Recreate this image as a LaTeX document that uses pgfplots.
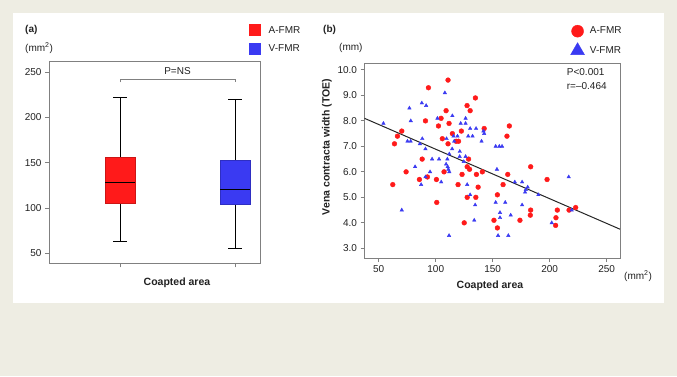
\documentclass[border=0pt]{standalone}
\usepackage{fontspec}
\setmainfont{Liberation Sans}
\usepackage{pgfplots}
\pgfplotsset{compat=1.18}
\usepgfplotslibrary{statistics}
\definecolor{bgbeige}{HTML}{EEEDE3}
\definecolor{myred}{HTML}{FF1A1A}
\definecolor{myblue}{HTML}{3A3AF2}
\definecolor{axgray}{HTML}{808080}
\definecolor{txt}{HTML}{222222}

\pgfplotstableread{
x y
110.8 9.6
93.6 9.3
134.8 8.9
127.5 8.6
109.1 8.4
130.2 8.4
91.0 8.0
104.7 8.1
102.4 7.8
111.7 7.9
164.6 7.8
70.2 7.6
142.5 7.7
114.6 7.5
122.5 7.6
162.5 7.4
66.4 7.4
105.8 7.3
117.9 7.2
120.0 7.2
63.8 7.1
110.8 7.1
183.3 6.2
88.1 6.5
128.8 6.5
127.6 6.2
129.7 6.1
74.0 6.0
107.3 6.0
140.9 6.0
123.1 5.9
135.7 5.9
163.2 5.9
62.3 5.5
85.7 5.7
92.7 5.8
100.6 5.7
119.6 5.5
159.1 5.5
197.7 5.7
137.2 5.4
154.1 5.1
127.6 5.0
135.2 5.0
100.9 4.8
183.3 4.5
206.7 4.5
217.0 4.5
222.8 4.6
183.0 4.3
151.1 4.1
173.9 4.1
205.5 4.2
125.0 4.0
205.2 3.9
154.1 3.8
}\redtab

\pgfplotstableread{
x y
54.1 7.9
76.9 8.5
78.1 8.0
87.8 8.7
91.6 8.6
108.0 9.1
101.5 8.1
114.6 8.2
126.2 8.1
121.9 7.9
126.2 7.9
130.2 7.7
135.4 7.7
141.9 7.6
142.5 7.5
115.6 7.4
119.1 7.4
128.5 7.4
132.3 7.4
75.2 7.2
78.0 7.2
88.2 7.3
86.1 7.1
109.5 7.3
116.2 7.2
140.2 7.2
152.6 7.0
155.8 7.0
158.2 7.0
91.0 6.9
114.4 6.9
121.1 6.8
111.9 6.7
96.8 6.5
102.9 6.5
110.2 6.5
121.0 6.6
124.6 6.4
126.2 6.6
109.1 6.3
110.5 6.2
111.1 6.1
153.7 6.1
81.9 6.2
95.0 6.0
111.9 6.0
91.0 5.8
87.2 5.5
104.8 5.6
127.6 5.5
169.4 5.6
175.8 5.6
179.0 5.3
180.7 5.4
178.4 5.2
190.1 5.1
130.2 5.1
152.6 4.8
161.0 4.8
134.6 4.7
175.8 4.7
216.7 5.8
70.2 4.5
156.4 4.4
165.8 4.3
156.4 4.2
133.8 4.1
201.8 4.0
219.3 4.5
111.7 3.5
154.7 3.5
163.7 3.5
}\bluetab

\pgfplotsset{
  myaxis/.style={
    scale only axis,
    anchor=south west,
    axis line style={axgray, line width=0.9pt},
    tick style={axgray, line width=0.8pt},
    major tick length=4pt,
    tick align=outside,
    xtick pos=left, ytick pos=left,
    tick label style={font=\fontsize{10}{12}\selectfont, text=txt},
    /pgf/number format/assume math mode=true,
    clip=false,
  }
}

\begin{document}
\begin{tikzpicture}
\fill[bgbeige] (0pt,0pt) rectangle (677pt,-376pt);
\fill[white] (13pt,-13pt) rectangle (664pt,-303pt);

% ---------------- panel (a)
\begin{axis}[myaxis,
  at={(49pt,-263.3pt)},
  width=211pt, height=201.6pt,
  xmin=0.383, xmax=2.217, ymin=39, ymax=261.4,
  xtick={1,2}, xticklabels={,},
  ytick={50,100,150,200,250},
  boxplot/draw direction=y,
]
\addplot[forget plot, draw=black, line width=0.7pt,
  boxplot prepared={draw position=1, lower whisker=63, lower quartile=105,
    median=128, upper quartile=156, upper whisker=222,
    box extend=0.26, whisker extend=0.12,
    every box/.style={draw=myred!80!black, fill=myred},
    every median/.style={black, line width=0.8pt}}]
  coordinates {};
\addplot[forget plot, draw=black, line width=0.7pt,
  boxplot prepared={draw position=2, lower whisker=55, lower quartile=104,
    median=121, upper quartile=153, upper whisker=220,
    box extend=0.26, whisker extend=0.12,
    every box/.style={draw=myblue!80!black, fill=myblue},
    every median/.style={black, line width=0.8pt}}]
  coordinates {};
\draw[axgray, line width=0.8pt] (axis cs:1,238.5) -- (axis cs:1,242) -- (axis cs:2,242) -- (axis cs:2,238.5);
\node[font=\fontsize{10}{12}\selectfont, text=txt] at (axis cs:1.5,251) {P=NS};
\end{axis}

% legend (a)
\fill[myred] (249pt,-24pt) rectangle (261pt,-36pt);
\fill[myblue] (249pt,-42.5pt) rectangle (261pt,-54.5pt);
\node[anchor=west, inner sep=0pt, font=\fontsize{10}{12}\selectfont, text=txt] at (268.5pt,-30pt) {A-FMR};
\node[anchor=west, inner sep=0pt, font=\fontsize{10}{12}\selectfont, text=txt] at (268.5pt,-48.5pt) {V-FMR};

% ---------------- panel (b)
\begin{axis}[myaxis,
  at={(364.5pt,-258pt)},
  width=255.5pt, height=195pt,
  xmin=37.5, xmax=261.7, ymin=2.62, ymax=10.27,
  xtick={50,100,150,200,250},
  ytick={3,4,5,6,7,8,9,10},
  yticklabel style={/pgf/number format/.cd, fixed, fixed zerofill, precision=1},
  legend style={at={(0.806,1.195)}, anchor=north west, draw=none, fill=none,
    inner sep=0pt, row sep=5.5pt, column sep=4pt,
    nodes={inner sep=1.5pt, font=\fontsize{10}{12}\selectfont, text=txt}},
  legend cell align=left,
]
\addplot[forget plot, only marks, mark=*, mark size=2.4pt, color=myred] table {\redtab};
\addplot[forget plot, only marks, mark=triangle*, mark size=2pt, color=myblue] table {\bluetab};
\addplot[forget plot, black!85, line width=1pt] coordinates {(37.5,8.10) (261.7,3.75)};
\addlegendimage{only marks, mark=*, mark size=6pt, color=myred}
\addlegendentry{A-FMR}
\addlegendimage{only marks, mark=triangle*, mark size=8pt, color=myblue}
\addlegendentry{V-FMR}
\node[anchor=west, font=\fontsize{10}{12}\selectfont, text=txt] at (axis cs:212,9.92) {P<0.001};
\node[anchor=west, font=\fontsize{10}{12}\selectfont, text=txt] at (axis cs:212,9.37) {r=–0.464};
\end{axis}

% ---------------- labels
\node[anchor=west, font=\bfseries\fontsize{10}{12}\selectfont, text=txt, inner sep=0pt] at (25pt,-30pt) {(a)};
\node[anchor=west, font=\fontsize{10}{12}\selectfont, text=txt, inner sep=0pt] at (25pt,-48pt) {(mm\textsuperscript{2})};
\node[font=\bfseries\fontsize{10.5}{12}\selectfont, text=txt] at (177pt,-283pt) {Coapted area};

\node[anchor=west, font=\bfseries\fontsize{10}{12}\selectfont, text=txt, inner sep=0pt] at (323pt,-30pt) {(b)};
\node[anchor=west, font=\fontsize{10}{12}\selectfont, text=txt, inner sep=0pt] at (339pt,-48pt) {(mm)};
\node[font=\bfseries\fontsize{10.5}{12}\selectfont, text=txt] at (490pt,-286pt) {Coapted area};
\node[rotate=90, font=\bfseries\fontsize{10.5}{12}\selectfont, text=txt] at (327pt,-147pt) {Vena contracta width (TOE)};
\node[anchor=west, font=\fontsize{10}{12}\selectfont, text=txt, inner sep=0pt] at (624pt,-276pt) {(mm\textsuperscript{2})};
\end{tikzpicture}
\end{document}
